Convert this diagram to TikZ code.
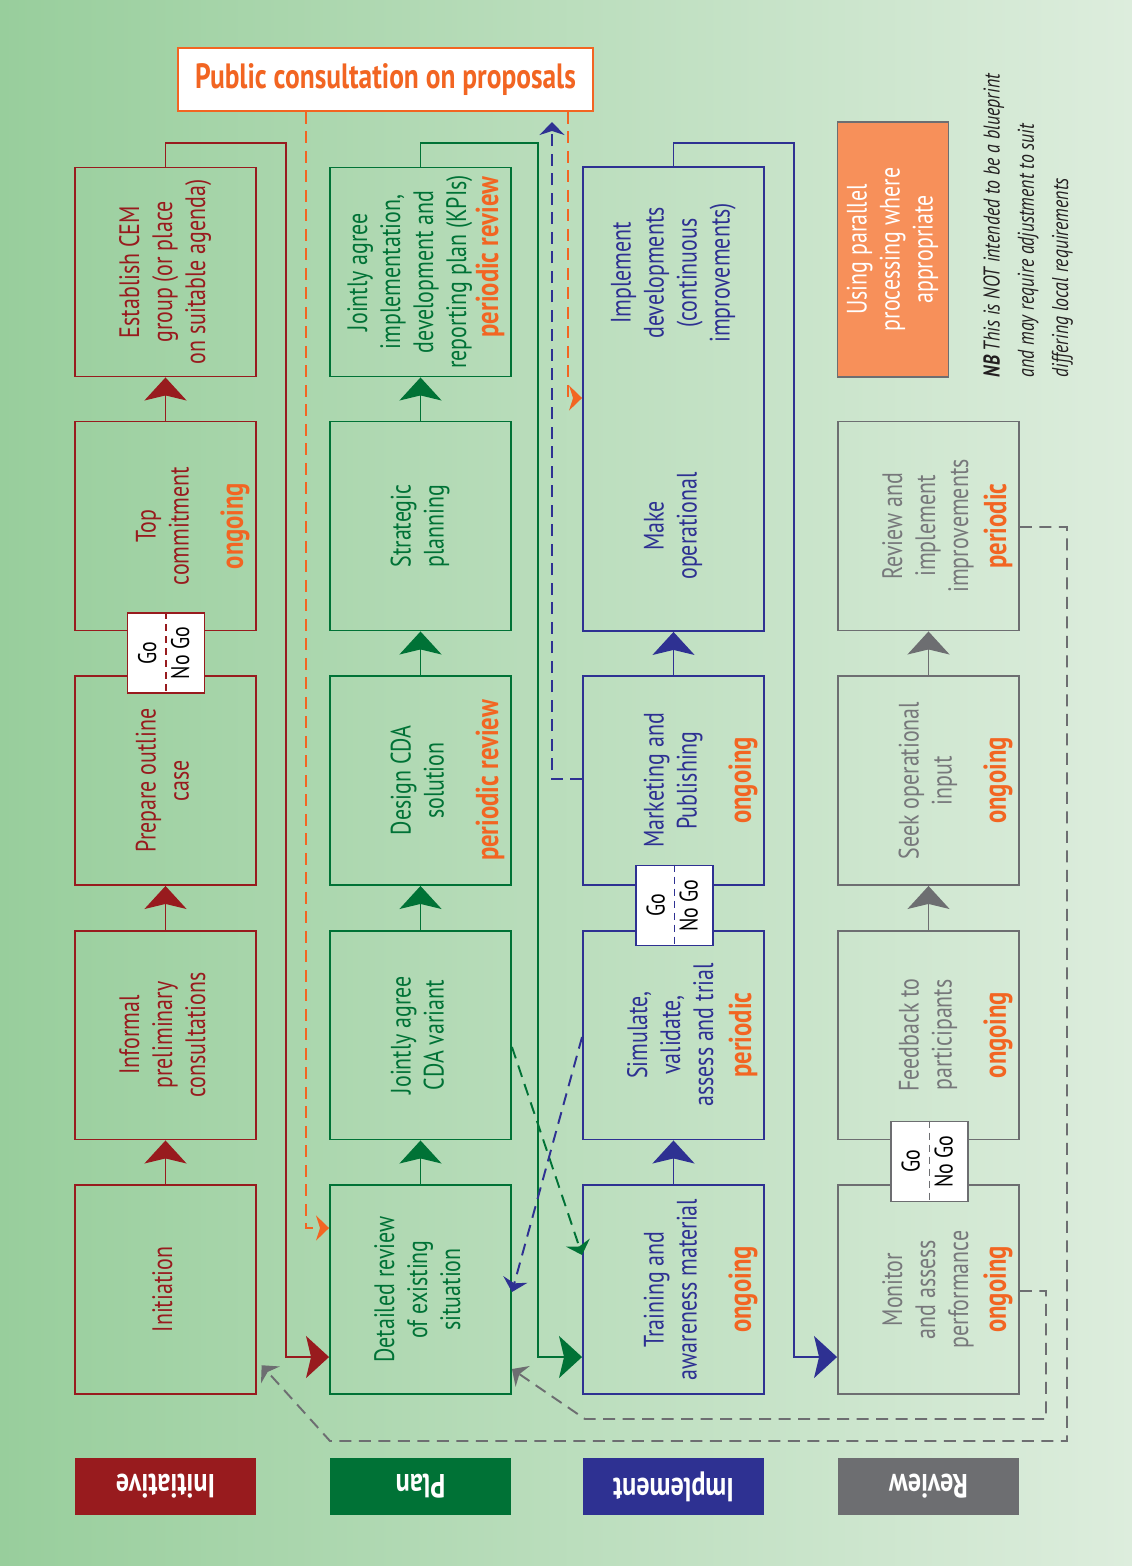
\documentclass[tikz,border=0pt]{standalone}
\usepackage{fontspec}
\setmainfont{PT Sans}[FakeStretch=0.78]
\usetikzlibrary{arrows.meta}
\definecolor{cemred}{HTML}{981B1E}
\definecolor{plangreen}{HTML}{007236}
\definecolor{implblue}{HTML}{2E3192}
\definecolor{revgray}{HTML}{6D6E71}
\definecolor{revtext}{HTML}{77787B}
\definecolor{hlorange}{HTML}{F26522}
\definecolor{parorange}{HTML}{F7905A}
\definecolor{bgleft}{HTML}{98CE9C}
\definecolor{bgright}{HTML}{DDEDDD}
\definecolor{nbtext}{HTML}{231F20}
\newcommand\boxfont{\fontsize{16}{18.8}\selectfont}
\newcommand\vt[1]{\rotatebox{90}{\begin{tabular}{@{}c@{}}#1\end{tabular}}}
\tikzset{
  box/.style={draw,minimum width=3.62cm,minimum height=4.18cm,inner sep=0pt,font=\boxfont},
  redbox/.style={box,draw=cemred,text=cemred},
  greenbox/.style={box,draw=plangreen,text=plangreen},
  bluebox/.style={box,draw=implblue,text=implblue},
  graybox/.style={box,draw=revgray,text=revtext},
  tag/.style={anchor=center,xshift=-.44cm,rotate=90,inner sep=0pt,text=hlorange,
    font=\bfseries\fontsize{18}{20}\selectfont},
  gobox/.style={draw,fill=white,minimum width=1.54cm,minimum height=1.6cm,inner sep=0pt,
    font=\fontsize{14.5}{18.8}\selectfont},
  godash/.style={line width=1pt,dash pattern=on .14cm off .1cm},
  lanetag/.style={minimum width=3.62cm,minimum height=1.14cm,inner sep=0pt,text=white,
    font=\bfseries\fontsize{19}{22}\selectfont},
  bigarrow/.style={-{Stealth[length=.46cm,width=.84cm,inset=.1cm]}},
  dasharrow/.style={dash pattern=on .24cm off .15cm,
    -{Stealth[length=.26cm,width=.5cm,inset=.08cm]}}}
\begin{document}
\begin{tikzpicture}[x=.02cm,y=-.02cm,line width=1.1pt]
\useasboundingbox(0,0)rectangle(1132,1566);
\shade[left color=bgleft,right color=bgright](0,0)rectangle(1132,1566);
\coordinate(lane)at(0,1357);\coordinate(bluetop)at(552,122);
% Initiative
\node[redbox](init)at(165.5,1289.5){\vt{Initiation}};
\node[redbox](informal)at(165.5,1035){\vt{Informal\\preliminary\\consultations}};
\node[redbox](outline)at(165.5,780.5){\vt{Prepare outline\\case}};
\node[redbox,label={[tag]east:ongoing}](topcom)at(165.5,526){\vt{Top\\commitment}};
\node[redbox](cem)at(165.5,272){\vt{Establish CEM\\group (or place\\on suitable agenda)}};
% Plan
\node[greenbox](review)at(420.5,1289.5){\vt{Detailed review\\of existing\\situation}};
\node[greenbox](cdavar)at(420.5,1035){\vt{Jointly agree\\CDA variant}};
\node[greenbox,label={[tag]east:periodic review}](design)at(420.5,780.5){\vt{Design CDA\\solution}};
\node[greenbox](strat)at(420.5,526){\vt{Strategic\\planning}};
\node[greenbox,label={[tag,xshift=.3cm]east:periodic review}](kpi)at(420.5,272){};
\node[text=plangreen,font=\boxfont](kpitxt)at(410,272)
  {\vt{Jointly agree\\implementation,\\development and\\reporting plan (KPIs)}};
% Implement
\node[bluebox,label={[tag]east:ongoing}](training)at(673.5,1289.5){\vt{Training and\\awareness material}};
\node[bluebox,label={[tag]east:periodic}](simulate)at(673.5,1035){\vt{Simulate,\\validate,\\assess and trial}};
\node[bluebox,label={[tag]east:ongoing}](mktg)at(673.5,780.5){\vt{Marketing and\\Publishing}};
\node[bluebox,minimum height=9.28cm](impl)at(673.5,399){};
\node[text=implblue,font=\boxfont](impltxt)at(673.5,273){\vt{Implement\\developments\\(continuous\\improvements)}};
\node[text=implblue,font=\boxfont](optxt)at(673.5,526){\vt{Make\\operational}};
% Review
\node[graybox,label={[tag]east:ongoing}](monitor)at(928.5,1289.5){\vt{Monitor\\and assess\\performance}};
\node[graybox,label={[tag]east:ongoing}](feedback)at(928.5,1035){\vt{Feedback to\\participants}};
\node[graybox,label={[tag]east:ongoing}](seekop)at(928.5,780.5){\vt{Seek operational\\input}};
\node[graybox,label={[tag]east:periodic}](improve)at(928.5,526){\vt{Review and\\implement\\improvements}};
\node[draw=revgray,fill=parorange,text=white,minimum width=2.22cm,minimum height=5.1cm,inner sep=0pt,
  font=\boxfont](parallel)at(893,249.5){\vt{Using parallel\\processing where\\appropriate}};
\node[anchor=south,text=nbtext,font=\itshape\fontsize{13}{19.5}\selectfont](nbnote)at(1027,384)
  {\rotatebox{90}{\begin{tabular}{@{}l@{}}\textbf{NB} This is NOT intended to be a blueprint\\and may require adjustment to suit\\differing local requirements\end{tabular}}};
\node[draw=hlorange,fill=white,text=hlorange,minimum width=8.3cm,minimum height=1.26cm,
  font=\bfseries\fontsize{20}{23}\selectfont](pubcons)at(385.5,79.5){Public consultation on proposals};
% steps up each column
\foreach \lo/\hi/\col in {init/informal/cemred,informal/outline/cemred,topcom/cem/cemred,
  review/cdavar/plangreen,cdavar/design/plangreen,design/strat/plangreen,strat/kpi/plangreen,
  training/simulate/implblue,mktg/impl/implblue,feedback/seekop/revgray,seekop/improve/revgray}
  {\draw[bigarrow,\col](\lo.north)--(\hi.south);}
% go / no go gates
\node[gobox,draw=cemred](gored)at(166,653){\vt{Go\\No Go}};
\node[gobox,draw=implblue](goblue)at(674.5,905.5){\vt{Go\\No Go}};
\node[gobox,draw=revgray](gogray)at(929.5,1161.5){\vt{Go\\No Go}};
\draw[godash,cemred](gored.north)--(gored.south);
\draw[godash,implblue](goblue.north)--(goblue.south);
\draw[godash,revgray](gogray.north)--(gogray.south);
% hand-overs between columns
\draw[bigarrow,cemred](cem.north)|-(286,143)|-(review.west|-lane);
\draw[bigarrow,plangreen](kpi.north)|-(538,143)|-(training.west|-lane);
\draw[bigarrow,implblue](impl.north)|-(794,143)|-(monitor.west|-lane);
% consultation and feedback
\draw[dasharrow,hlorange](pubcons.south-|306,0)|-(review.west|-0,1228);
\draw[dasharrow,hlorange](pubcons.south-|568,0)|-(impl.west|-0,398);
\draw[dasharrow,implblue](mktg.west|-0,779)-|(bluetop);
\draw[dasharrow,plangreen](cdavar.east|-0,1047)--(training.west|-0,1255);
\draw[dasharrow,implblue](simulate.west|-0,1037)--(review.east|-0,1292);
\draw[dasharrow,revgray,shorten >=4pt](improve.east|-0,527)-|(1067,1441)--(330,1441)--(init.east|-0,1360);
\draw[dasharrow,revgray](monitor.east|-0,1291)-|(1046,1419)--(585,1419)--(review.east|-0,1369);
% lane tags
\node[lanetag,fill=cemred](taginit)at(165.5,1486.5){\rotatebox{180}{Initiative}};
\node[lanetag,fill=plangreen](tagplan)at(420.5,1486.5){\rotatebox{180}{Plan}};
\node[lanetag,fill=implblue](tagimpl)at(673.5,1486.5){\rotatebox{180}{Implement}};
\node[lanetag,fill=revgray](tagrev)at(928.5,1486.5){\rotatebox{180}{Review}};
\end{tikzpicture}
\end{document}
